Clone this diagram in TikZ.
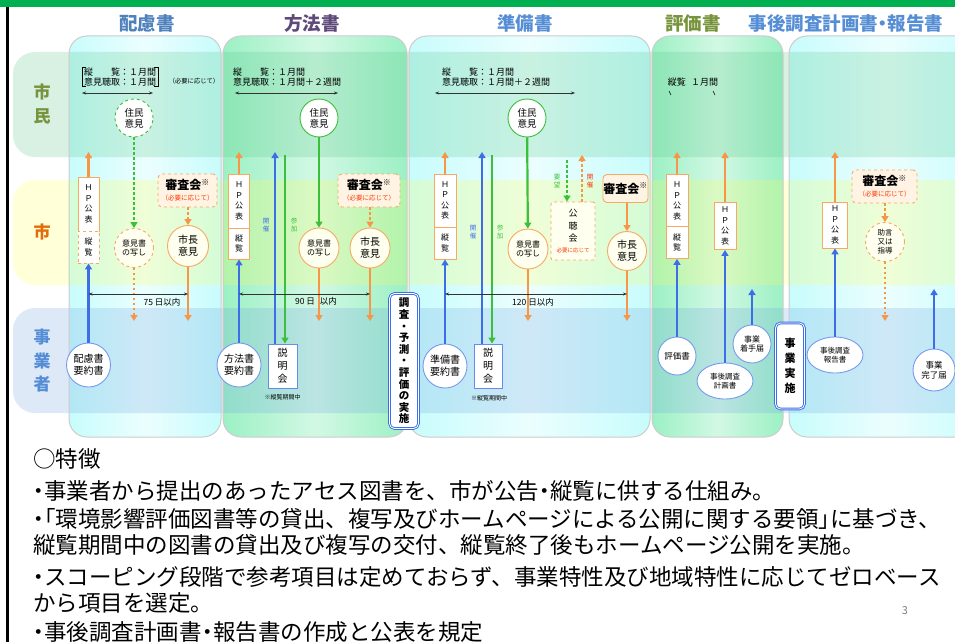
\documentclass[tikz,border=0pt]{standalone}
\usepackage{fontspec}
\setmainfont{Noto Sans CJK JP}
\usetikzlibrary{arrows.meta,shapes.geometric}
\definecolor{topgreen}{HTML}{00B050}
\definecolor{hblue}{HTML}{4F81BD}
\definecolor{hblue2}{HTML}{558ED5}
\definecolor{hpurple}{HTML}{5F497A}
\definecolor{holive}{HTML}{77933C}
\definecolor{rorange}{HTML}{E46C0A}
\definecolor{colcy}{HTML}{C8FCFC}
\definecolor{colgr}{HTML}{9CF0C4}
\definecolor{bandg}{HTML}{5CC88C}
\definecolor{bandy}{HTML}{FFFF50}
\definecolor{bandb}{HTML}{6A9EE0}
\definecolor{orA}{HTML}{F79646}
\definecolor{orL}{HTML}{F8A860}
\definecolor{blA}{HTML}{3D6EE8}
\definecolor{grA}{HTML}{3CC03C}
\definecolor{redT}{HTML}{FF3300}
\definecolor{skfill}{HTML}{FFF4E4}
\definecolor{cfill}{HTML}{FFFFF0}
\newcommand\hdot{\makebox[0.5em][c]{・}}
\newcommand\lkg{\makebox[0.5em][r]{「}}
\newcommand\rkg{\makebox[0.5em][l]{」}}
\newcommand\sktxt{\fontsize{12}{13}\selectfont\bfseries}
\newcommand\hyonote{\color{redT}\fontsize{6.5}{7}\selectfont （必要に応じて）}
\begin{document}
\begin{tikzpicture}[x=1pt,y=-1pt,
 hdr/.style={font=\fontsize{18.5}{20}\selectfont\bfseries, inner sep=0},
 rowl/.style={font=\fontsize{17}{23.5}\selectfont\bfseries, align=center, inner sep=0},
 toptxt/.style={inner sep=0, align=left, anchor=west, font=\fontsize{9}{10}\selectfont},
 hpb/.style={rectangle, draw=orL, line width=0.9, fill=white, minimum width=21, inner sep=0, align=center, font=\fontsize{8}{10.5}\selectfont},
 circ/.style={circle, minimum size=38, inner sep=0, align=center, font=\fontsize{8}{9.5}\selectfont, line width=0.9},
 jmc/.style={circ, draw=grA, fill=white, font=\fontsize{9.5}{11}\selectfont},
 ikc/.style={circ, draw=orL, fill=cfill},
 scc/.style={circ, draw=orL, fill=cfill, font=\fontsize{10}{12}\selectfont},
 ykc/.style={circ, draw=blA!70, fill=white, font=\fontsize{10}{12}\selectfont},
 ellc/.style={ellipse, draw=blA!70, fill=white, inner sep=0, align=center, line width=0.9, minimum width=56, minimum height=36, font=\fontsize{7.5}{9}\selectfont},
 skb/.style={rectangle, rounded corners=4, draw=orL, fill=skfill, align=center, inner sep=0, line width=0.9},
 smb/.style={rectangle, draw=blA!80, fill=white, minimum width=28, minimum height=44, inner sep=0, align=center, line width=0.9, font=\fontsize{10}{13}\selectfont},
 vbox/.style={rectangle, rounded corners=5, draw=blA, double=white, double distance=0.8, line width=0.9, fill=white, inner sep=0, align=center, font=\fontsize{10.5}{11.6}\selectfont\bfseries},
 lbl/.style={inner sep=0, align=center, font=\fontsize{6.5}{8}\selectfont},
 atip/.style={-{Triangle[length=6,width=7]}},
 oa/.style={draw=orA, line width=2.2, atip},
 ba/.style={draw=blA, line width=2.2, atip},
 ga/.style={draw=grA, line width=2.2, atip},
 od/.style={oa, dash pattern=on 2.5 off 2.5},
 gd/.style={ga, dash pattern=on 2.5 off 2.5},
 dimln/.style={draw=black!80, line width=0.5, {Stealth[length=4,width=3]}-{Stealth[length=4,width=3]}},
 smallnote/.style={inner sep=0, font=\fontsize{6}{7}\selectfont},
 dimlbl/.style={inner sep=0, font=\fontsize{8.5}{10}\selectfont},
 bodytxt/.style={anchor=west, inner sep=0, font=\fontsize{22.5}{26}\selectfont}
]
\useasboundingbox (0,0) rectangle (955,642);
\fill[white] (0,0) rectangle (955,642);
% top bar and left rule
\fill[topgreen] (0,0) rectangle (955,7);
\draw[black, line width=2.5] (7.5,7) -- (7.5,642);
% headers
\node[hdr, text=hblue] (h1) at (147,23) {配慮書};
\node[hdr, text=hpurple] (h2) at (312,23) {方法書};
\node[hdr, text=hblue2] (h3) at (525,23) {準備書};
\node[hdr, text=holive] (h4) at (693,23) {評価書};
\node[hdr, text=hblue2] (h5) at (846,23) {事後調査計画書\hdot 報告書};
% columns
\shade[rounded corners=18, left color=colcy, right color=colcy, middle color=colcy!35!white] (69,36) rectangle (221,437);
\shade[rounded corners=18, left color=colgr, right color=colgr, middle color=colgr!45!white] (223,36) rectangle (407,437);
\shade[rounded corners=18, left color=colcy, right color=colcy, middle color=colcy!35!white] (409,36) rectangle (650,437);
\shade[rounded corners=18, left color=colgr, right color=colgr, middle color=colgr!45!white] (652,36) rectangle (783,437);
\shade[rounded corners=18, left color=colcy, right color=colcy, middle color=colcy!35!white] (789,36) rectangle (985,437);
% bands
\fill[bandg, fill opacity=0.24, rounded corners=22] (13,52) rectangle (990,157);
\fill[bandy, fill opacity=0.22, rounded corners=22] (13,180) rectangle (990,285);
\fill[bandb, fill opacity=0.22, rounded corners=22] (13,308) rectangle (990,413);
% column outlines
\draw[gray!40, line width=1, rounded corners=18] (69,36) rectangle (221,437);
\draw[gray!40, line width=1, rounded corners=18] (223,36) rectangle (407,437);
\draw[gray!40, line width=1, rounded corners=18] (409,36) rectangle (650,437);
\draw[gray!40, line width=1, rounded corners=18] (652,36) rectangle (783,437);
\draw[gray!40, line width=1, rounded corners=18] (789,36) rectangle (985,437);
% row labels
\node[rowl, text=holive] (rl1) at (42,104) {市\\民};
\node[rowl, text=rorange] (rl2) at (42,232) {市};
\node[rowl, text=hblue2] (rl3) at (42,361) {事\\業\\者};

% ================= column 1 : 配慮書
\node[toptxt] (tt1) at (84,77) {縦\hspace{2em}覧：１月間\\意見聴取：１月間};
\draw[line width=0.6] ([xshift=2pt]tt1.north west) -- ([xshift=-2pt]tt1.north west) -- ([xshift=-2pt]tt1.south west) -- ([xshift=2pt]tt1.south west);
\draw[line width=0.6] ([xshift=-2pt]tt1.north east) -- ([xshift=2pt]tt1.north east) -- ([xshift=2pt]tt1.south east) -- ([xshift=-2pt]tt1.south east);
\node[inner sep=0, font=\fontsize{6.3}{7}\selectfont] (nd1) at (194,81) {（必要に応じて）};
\coordinate (da1) at (82,93); \coordinate (db1) at (153,93);
\draw[dimln] (da1) -- (db1);
\node[jmc, dashed] (jm1) at (134,118) {住民\\意見};
\node[hpb, minimum height=54] (hp1a) at (88.5,204) {Ｈ\\Ｐ\\公\\表};
\node[hpb, dashed, minimum height=32] (hp1b) at (88.5,247) {縦\\覧};
\node[skb, dashed, minimum width=59, minimum height=33] (sk1) at (187.5,190.5) {{\sktxt 審査会\textsuperscript{※}}\\[-1pt]{\hyonote}};
\node[ikc, dashed, minimum size=39] (ik1) at (134,248) {意見書\\の写し};
\node[scc, minimum size=41] (sc1) at (188,246) {市長\\意見};
\node[ykc, minimum size=44] (yk1) at (88.5,365) {配慮書\\要約書};
\coordinate (o1t) at (88.5,152);
\draw[oa] (hp1a.north) -- (o1t);
\draw[ba] (yk1.north) -- (hp1b.south);
\draw[gd] (jm1) -- (ik1);
\draw[od] (sk1.south -| sc1.north) -- (sc1.north);
\coordinate (o1a) at (134,321); \coordinate (o1b) at (188,321);
\draw[od] (ik1) -- (o1a);
\draw[oa] (sc1) -- (o1b);
\coordinate (d1a) at (88.5,294); \coordinate (d1b) at (188,294);
\draw[dimln] (d1a) -- (d1b);
\node[dimlbl] (l1) at (162,302) {75 日以内};

% ================= column 2 : 方法書
\node[toptxt] (tt2) at (233,77) {縦\hspace{2em}覧：１月間\\意見聴取：１月間＋２週間};
\coordinate (da2) at (235,93); \coordinate (db2) at (338,93);
\draw[dimln] (da2) -- (db2);
\node[jmc] (jm2) at (319,118) {住民\\意見};
\node[hpb, minimum height=54] (hp2a) at (239,201) {Ｈ\\Ｐ\\公\\表};
\node[hpb, minimum height=31] (hp2b) at (239,243.5) {縦\\覧};
\node[ykc, minimum size=44] (yk2) at (239,365) {方法書\\要約書};
\node[smb, minimum width=29] (sm2) at (282.5,366) {説\\明\\会};
\coordinate (o2t) at (239,152);
\draw[oa] (hp2a.north) -- (o2t);
\draw[ba] (yk2.north) -- (hp2b.south);
\coordinate (b2t) at (275,152); \coordinate (g2t) at (285,155);
\draw[ba] (sm2.north -| b2t) -- (b2t);
\draw[ga] (g2t) -- (sm2.north -| g2t);
\node[lbl, text=blA] (kc2) at (266,225) {開\\催};
\node[lbl, text=grA] (sn2) at (294,225) {参\\加};
\node[smallnote] (nt2) at (282.5,397) {※縦覧期間中};
\node[skb, dashed, minimum width=62, minimum height=33] (sk2) at (369,190.5) {{\sktxt 審査会\textsuperscript{※}}\\[-1pt]{\hyonote}};
\node[ikc, minimum size=40] (ik2) at (319,248) {意見書\\の写し};
\node[scc, minimum size=40] (sc2) at (370,248) {市長\\意見};
\draw[ga] (jm2) -- (ik2);
\draw[od] (sk2.south -| sc2.north) -- (sc2.north);
\coordinate (o2a) at (319,321); \coordinate (o2b) at (370,321);
\draw[oa] (ik2) -- (o2a);
\draw[oa] (sc2) -- (o2b);
\coordinate (d2a) at (239,294); \coordinate (d2b) at (370,294);
\draw[dimln] (d2a) -- (d2b);
\node[dimlbl] (l2) at (316,301) {90 日\hspace{0.6em}以内};

% survey box
\node[vbox, minimum width=29, minimum height=135] (cy) at (404,361) {調\\査\\・\\予\\測\\・\\評\\価\\の\\実\\施};

% ================= column 3 : 準備書
\node[toptxt] (tt3) at (442,77) {縦\hspace{2em}覧：１月間\\意見聴取：１月間＋２週間};
\coordinate (da3) at (435,93); \coordinate (db3) at (575,93);
\draw[dimln] (da3) -- (db3);
\node[jmc] (jm3) at (527,118) {住民\\意見};
\node[hpb, minimum width=22, minimum height=53] (hp3a) at (445,200.5) {Ｈ\\Ｐ\\公\\表};
\node[hpb, minimum width=22, minimum height=32] (hp3b) at (445,243) {縦\\覧};
\node[ykc, minimum size=44] (yk3) at (445,366) {準備書\\要約書};
\node[smb] (sm3) at (488,366) {説\\明\\会};
\coordinate (o3t) at (445,152);
\draw[oa] (hp3a.north) -- (o3t);
\draw[ba] (yk3.north) -- (hp3b.south);
\coordinate (b3t) at (482,152); \coordinate (g3t) at (492,155);
\draw[ba] (sm3.north -| b3t) -- (b3t);
\draw[ga] (g3t) -- (sm3.north -| g3t);
\node[lbl, text=blA] (kc3) at (473,232) {開\\催};
\node[lbl, text=grA] (sn3) at (500,232) {参\\加};
\node[smallnote] (nt3) at (489,398) {※縦覧期間中};
\node[skb, dashed, rounded corners=2, fill=cfill, minimum width=44, minimum height=58, font=\fontsize{9}{12.5}\selectfont] (kh3) at (573,231) {公\\聴\\会\\[-2pt]{\color{redT}\fontsize{5.5}{6}\selectfont 必要に応じて}};
\coordinate (y3t) at (567,160); \coordinate (k3t) at (582,155);
\draw[gd] (y3t) -- (kh3.north -| y3t);
\draw[od] (kh3.north -| k3t) -- (k3t);
\node[lbl, text=grA] (yb3) at (557,181) {要\\望};
\node[lbl, text=redT] (kk3) at (590,181) {開\\催};
\node[skb, minimum width=45, minimum height=28] (sk3) at (625.5,188.5) {{\sktxt 審査会\textsuperscript{※}}};
\node[ikc, minimum size=40] (ik3) at (528,249) {意見書\\の写し};
\node[scc, minimum size=39] (sc3) at (627,251) {市長\\意見};
\draw[ga] (jm3) -- (ik3);
\draw[oa] (sk3.south -| sc3.north) -- (sc3.north);
\coordinate (o3a) at (528,321); \coordinate (o3b) at (627,321);
\draw[oa] (ik3) -- (o3a);
\draw[oa] (sc3) -- (o3b);
\coordinate (d3a) at (445,294); \coordinate (d3b) at (627,294);
\draw[dimln] (d3a) -- (d3b);
\node[dimlbl] (l3) at (533,302) {120 日以内};

% ================= column 4 : 評価書
\node[inner sep=0, font=\fontsize{9}{10}\selectfont] (tt4) at (693,82) {縦覧\hspace{0.6em}１月間};
\coordinate (tk1a) at (669,91); \coordinate (tk1b) at (671,95);
\coordinate (tk2a) at (713,91); \coordinate (tk2b) at (715,95);
\draw[line width=0.5] (tk1a) -- (tk1b);
\draw[line width=0.5] (tk2a) -- (tk2b);
\node[hpb, minimum width=22, minimum height=53] (hp4a) at (677,201) {Ｈ\\Ｐ\\公\\表};
\node[hpb, minimum width=22, minimum height=32] (hp4b) at (677,242.5) {縦\\覧};
\node[hpb, minimum width=22, minimum height=47] (hp4c) at (725,226) {Ｈ\\Ｐ\\公\\表};
\node[ykc, minimum size=38, font=\fontsize{8.5}{10}\selectfont] (hy4) at (677,356) {評価書};
\node[ellc] (jk4) at (725,381) {事後調査\\計画書};
\node[ykc, minimum size=38, font=\fontsize{8}{9.5}\selectfont] (cs4) at (752,344) {事業\\着手届};
\coordinate (o4t) at (677,152); \coordinate (o4u) at (725,152);
\draw[oa] (hp4a.north) -- (o4t);
\draw[oa] (hp4c.north) -- (o4u);
\draw[ba] (hy4.north) -- (hp4b.south);
\draw[ba] (jk4.north) -- (hp4c.south);
\coordinate (c4t) at (752,289);
\draw[ba] (cs4) -- (c4t);

% 事業実施 box
\node[vbox, minimum width=29, minimum height=86, font=\fontsize{11}{15}\selectfont\bfseries] (jj) at (790,366) {事\\業\\実\\施};

% ================= column 5 : 事後調査
\node[hpb, minimum width=25, minimum height=46] (hp5) at (835,225) {Ｈ\\Ｐ\\公\\表};
\node[ellc] (jh5) at (835,355) {事後調査\\報告書};
\node[skb, dashed, minimum width=65, minimum height=33] (sk5) at (884.5,186.5) {{\sktxt 審査会\textsuperscript{※}}\\[-1pt]{\hyonote}};
\node[ikc, dashed, minimum size=39, font=\fontsize{7.5}{9}\selectfont] (jd5) at (885,242) {助言\\又は\\指導};
\node[ykc, minimum size=42, font=\fontsize{8.5}{10}\selectfont] (kr5) at (934,370) {事業\\完了届};
\coordinate (o5t) at (835,152);
\draw[oa] (hp5.north) -- (o5t);
\draw[ba] (jh5.north) -- (hp5.south);
\draw[od] (sk5.south -| jd5.north) -- (jd5.north);
\coordinate (o5a) at (885,321);
\draw[od] (jd5) -- (o5a);
\coordinate (k5t) at (934,289);
\draw[ba] (kr5) -- (k5t);

% ================= bottom text
\node[bodytxt] (f0) at (33,459) {○特徴};
\node[bodytxt] (f1) at (33,491) {\hdot 事業者から提出のあったアセス図書を、市が公告\hdot 縦覧に供する仕組み。};
\node[bodytxt] (f2) at (33,519) {\hdot\lkg 環境影響評価図書等の貸出、複写及びホームページによる公開に関する要領\rkg に基づき、};
\node[bodytxt] (f3) at (33,545) {縦覧期間中の図書の貸出及び複写の交付、縦覧終了後もホームページ公開を実施。};
\node[bodytxt] (f4) at (33,577) {\hdot スコーピング段階で参考項目は定めておらず、事業特性及び地域特性に応じてゼロベース};
\node[bodytxt] (f5) at (33,603) {から項目を選定。};
\node[bodytxt] (f6) at (33,632) {\hdot 事後調査計画書\hdot 報告書の作成と公表を規定};
\node[inner sep=0, text=gray, font=\fontsize{11}{12}\selectfont] (pg) at (905,611) {3};
\end{tikzpicture}
\end{document}
